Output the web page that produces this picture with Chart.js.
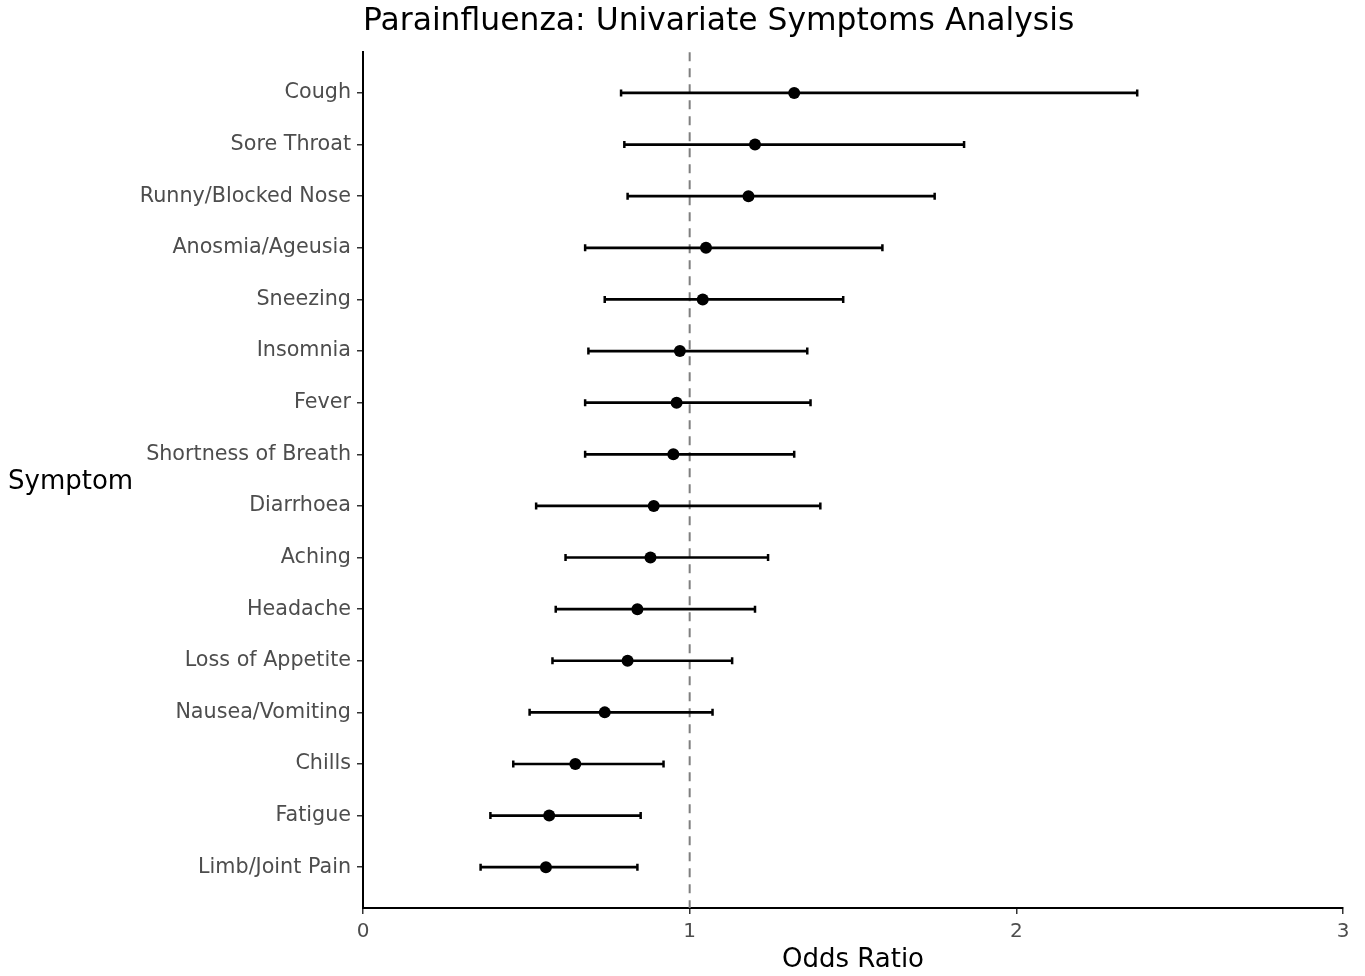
<!DOCTYPE html>
<html>
<head>
<meta charset="utf-8">
<script src="https://cdn.jsdelivr.net/npm/chart.js@4"></script>
<style>
  html, body { margin: 0; padding: 0; background: #ffffff; }
  #wrap { width: 1365px; height: 976px; }
</style>
</head>
<body>
<div id="wrap"><canvas id="c" width="1365" height="976"></canvas></div>
<script>
const chartTitle = 'Parainfluenza: Univariate Symptoms Analysis';
const xTitle = 'Odds Ratio';
const yTitle = 'Symptom';
const symptoms = ['Cough','Sore Throat','Runny/Blocked Nose','Anosmia/Ageusia','Sneezing','Insomnia','Fever','Shortness of Breath','Diarrhoea','Aching','Headache','Loss of Appetite','Nausea/Vomiting','Chills','Fatigue','Limb/Joint Pain'];
const oddsRatio = [1.32,1.20,1.18,1.05,1.04,0.97,0.96,0.95,0.89,0.88,0.84,0.81,0.74,0.65,0.57,0.56];
const lowerCI  = [0.79,0.80,0.81,0.68,0.74,0.69,0.68,0.68,0.53,0.62,0.59,0.58,0.51,0.46,0.39,0.36];
const upperCI  = [2.37,1.84,1.75,1.59,1.47,1.36,1.37,1.32,1.40,1.24,1.20,1.13,1.07,0.92,0.85,0.84];
const xTicks = [0,1,2,3];
const refLine = 1;

const FONT = "'DejaVu Sans', sans-serif";

const refAndBars = {
  id: 'refAndBars',
  beforeDatasetsDraw(chart) {
    const {ctx, chartArea, scales} = chart;
    const xs = scales.x, ys = scales.y;
    ctx.save();
    const rx = xs.getPixelForValue(refLine);
    ctx.strokeStyle = '#7f7f7f';
    ctx.lineWidth = 2;
    ctx.setLineDash([9, 7]);
    ctx.beginPath();
    ctx.moveTo(rx, chartArea.top);
    ctx.lineTo(rx, chartArea.bottom);
    ctx.stroke();
    ctx.setLineDash([]);
    ctx.strokeStyle = '#000000';
    ctx.lineWidth = 2.7;
    for (let i = 0; i < symptoms.length; i++) {
      const y = ys.getPixelForValue(i);
      const x1 = xs.getPixelForValue(lowerCI[i]);
      const x2 = xs.getPixelForValue(upperCI[i]);
      ctx.beginPath();
      ctx.moveTo(x1, y); ctx.lineTo(x2, y);
      ctx.stroke();
      ctx.lineWidth = 2.5;
      ctx.beginPath();
      ctx.moveTo(x1, y - 3.5); ctx.lineTo(x1, y + 3.5);
      ctx.moveTo(x2, y - 3.5); ctx.lineTo(x2, y + 3.5);
      ctx.stroke();
      ctx.lineWidth = 2.7;
    }
    ctx.restore();
  },
  afterDraw(chart) {
    const {ctx, chartArea} = chart;
    ctx.save();
    ctx.fillStyle = '#000000';
    ctx.font = "26px " + FONT;
    ctx.textAlign = 'left';
    ctx.textBaseline = 'middle';
    ctx.fillText(yTitle, 8, (chartArea.top + chartArea.bottom) / 2 + 2);
    ctx.restore();
  }
};

new Chart(document.getElementById('c'), {
  type: 'scatter',
  data: {
    datasets: [{
      data: symptoms.map((s, i) => ({x: oddsRatio[i], y: i})),
      backgroundColor: '#000000',
      borderColor: '#000000',
      pointRadius: 6,
      pointHoverRadius: 6,
      borderWidth: 0
    }]
  },
  options: {
    responsive: false,
    animation: false,
    events: [],
    layout: { padding: { left: 0, right: 22, top: 0, bottom: 0 } },
    plugins: {
      legend: { display: false },
      tooltip: { enabled: false },
      title: {
        display: true,
        text: chartTitle,
        align: 'start',
        fullSize: false,
        color: '#000000',
        font: { family: FONT, size: 31.4, weight: 'normal', lineHeight: 1.2 },
        padding: { top: 3.5, bottom: 11 }
      }
    },
    scales: {
      x: {
        type: 'linear',
        min: 0, max: 3,
        afterBuildTicks(scale) { scale.ticks = xTicks.map(v => ({value: v})); },
        afterFit(scale) { scale.height = 68; },
        grid: { display: true, drawOnChartArea: false, drawTicks: true, tickLength: 6, color: '#333333', lineWidth: 1.5 },
        border: { display: true, color: '#000000', width: 2 },
        ticks: { color: '#4d4d4d', font: { family: FONT, size: 20 }, padding: 6, maxRotation: 0 },
        title: { display: true, text: xTitle, color: '#000000', font: { family: FONT, size: 26, lineHeight: 1.2 }, padding: { top: 0, bottom: 0.5 } }
      },
      y: {
        type: 'linear',
        reverse: true,
        min: -0.79, max: symptoms.length - 1 + 0.79,
        afterBuildTicks(scale) { scale.ticks = symptoms.map((s, i) => ({value: i})); },
        afterFit(scale) { scale.width = 363; },
        grid: { display: true, drawOnChartArea: false, drawTicks: true, tickLength: 6, color: '#333333', lineWidth: 1.5 },
        border: { display: true, color: '#000000', width: 2 },
        ticks: {
          color: '#4d4d4d',
          font: { family: FONT, size: 20.7 },
          padding: 6,
          autoSkip: false,
          callback: (v) => symptoms[v]
        }
      }
    }
  },
  plugins: [refAndBars]
});
</script>
</body>
</html>
